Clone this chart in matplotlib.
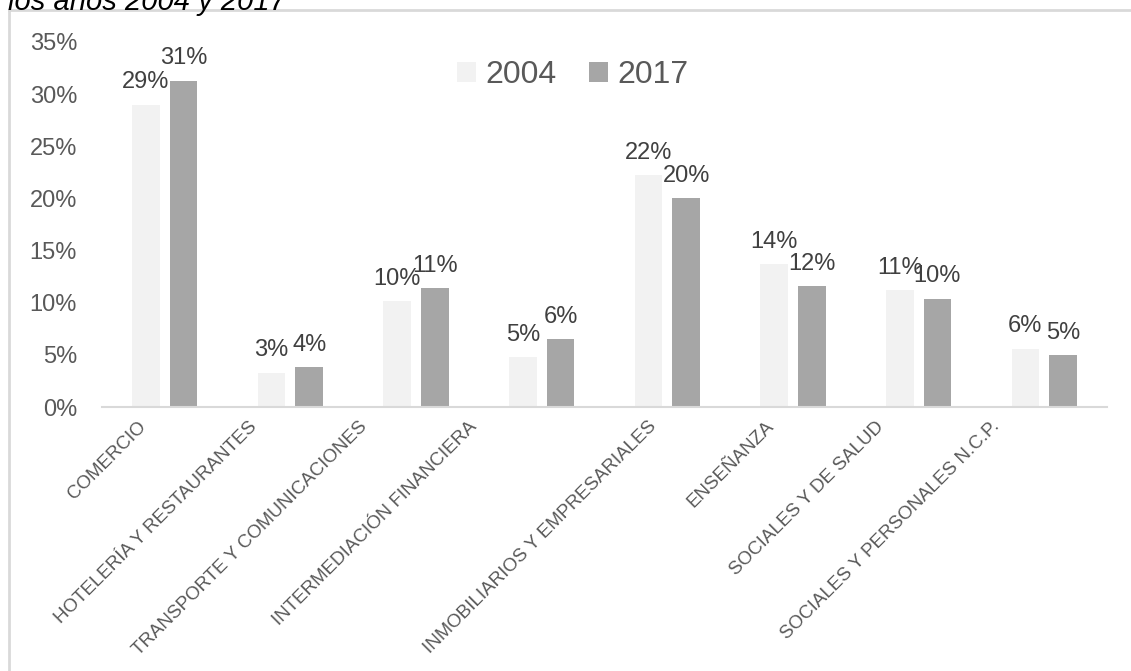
import matplotlib
matplotlib.use("Agg")
import matplotlib.pyplot as plt
import matplotlib.transforms as mtransforms
import numpy as np
from matplotlib.lines import Line2D

#sectores y participacion por año
sectores = ["COMERCIO", "HOTELERÍA Y RESTAURANTES", "TRANSPORTE Y COMUNICACIONES",
            "INTERMEDIACIÓN FINANCIERA", "INMOBILIARIOS Y EMPRESARIALES",
            "ENSEÑANZA", "SOCIALES Y DE SALUD", "SOCIALES Y PERSONALES N.C.P."]
valores_2004 = [0.290, 0.033, 0.102, 0.048, 0.222, 0.137, 0.112, 0.056]
valores_2017 = [0.313, 0.038, 0.114, 0.065, 0.200, 0.116, 0.104, 0.050]
anios = ["2004", "2017"]
yticks = [0, 0.05, 0.10, 0.15, 0.20, 0.25, 0.30, 0.35]

color_2004 = "#f2f2f2"
color_2017 = "#a6a6a6"
gris_texto = "#595959"

#corrimiento horizontal (px) de cada etiqueta rotada
corr_etiquetas = [-27, -42, -58, -73, -19, -28, -43, -53]

plt.rcParams['font.family'] = ['Liberation Sans', 'DejaVu Sans']

W, H = 1131, 671
fig = plt.figure(figsize=(W / 100, H / 100), dpi=100)

#marco del grafico (solo arriba e izquierda se ven)
fig.add_artist(Line2D([9 / W, 1], [1 - 10 / H, 1 - 10 / H], color="#d9d9d9", lw=2))
fig.add_artist(Line2D([9 / W, 9 / W], [0, 1 - 10 / H], color="#d9d9d9", lw=2))

#titulo recortado arriba
fig.text(8 / W, 1 - 10 / H, "los años 2004 y 2017", fontsize=21, style="italic",
         color="black", ha="left", va="baseline")

ax = fig.add_axes([102 / W, (H - 407) / H, 1005 / W, (407 - 42) / H])

x = np.arange(len(sectores))
ancho = 0.22
desp = 0.15
b1 = ax.bar(x - desp, valores_2004, ancho, color=color_2004, label=anios[0])
b2 = ax.bar(x + desp, valores_2017, ancho, color=color_2017, label=anios[1])

#etiquetas de porcentaje sobre las barras
for barras in (b1, b2):
    for b in barras:
        v = b.get_height()
        ax.annotate("{:.0f}%".format(v * 100), (b.get_x() + b.get_width() / 2, v),
                    xytext=(0, 8), textcoords="offset points", ha="center", va="bottom",
                    fontsize=17, color="#404040")

ax.set_xlim(-0.5, len(sectores) - 0.5)
ax.set_ylim(0, 0.35)
ax.set_yticks(yticks)
ax.set_yticklabels(["{:.0f}%".format(t * 100) for t in yticks], fontsize=17, color=gris_texto)
ax.tick_params(axis="y", length=0, pad=18)
ax.set_xticks(x)
ax.set_xticklabels(sectores, rotation=45, ha="right", rotation_mode="anchor",
                   fontsize=13.5, color=gris_texto)
ax.tick_params(axis="x", length=0, pad=8)
for lab, dx in zip(ax.get_xticklabels(), corr_etiquetas):
    lab.set_transform(lab.get_transform() + mtransforms.ScaledTranslation(dx / 100, 0, fig.dpi_scale_trans))

for s in ["top", "right", "left"]:
    ax.spines[s].set_visible(False)
ax.spines["bottom"].set_color("#d9d9d9")
ax.spines["bottom"].set_linewidth(1.5)

leg = ax.legend(loc="center", bbox_to_anchor=((573 - 102) / 1005, (407 - 75) / 365),
                ncol=2, frameon=False, fontsize=23, handlelength=0.6, handleheight=0.6,
                handletextpad=0.3, columnspacing=1.0, labelcolor=gris_texto)

fig.savefig("out.png", dpi=100)
